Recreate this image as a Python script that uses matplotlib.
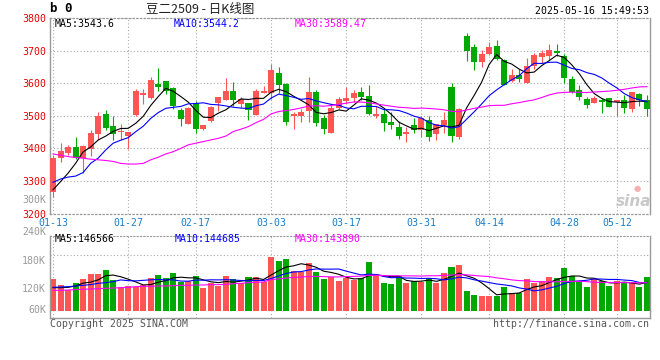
import matplotlib
matplotlib.use('Agg')
import matplotlib.pyplot as plt
import numpy as np
import pandas as pd

# ---------------- data ----------------
dates = ['01-13','01-14','01-15','01-16','01-17','01-20','01-21','01-22','01-23','01-24','01-27',
         '02-05','02-06','02-07','02-10','02-11','02-12','02-13','02-14','02-17','02-18','02-19',
         '02-20','02-21','02-24','02-25','02-26','02-27','02-28',
         '03-03','03-04','03-05','03-06','03-07','03-10','03-11','03-12','03-13','03-14','03-17',
         '03-18','03-19','03-20','03-21','03-24','03-25','03-26','03-27','03-28','03-31',
         '04-01','04-02','04-03','04-07','04-08','04-09','04-10','04-11','04-14','04-15','04-16',
         '04-17','04-18','04-21','04-22','04-23','04-24','04-25','04-28','04-29','04-30',
         '05-06','05-07','05-08','05-09','05-12','05-13','05-14','05-15','05-16']

open_ = [3267,3370,3387,3404,3370,3399,3445,3505,3468,3450,
         3438,3501,3563,3554,3598,3607,3585,3518,3476,3540,
         3459,3483,3540,3550,3576,3536,3540,3503,3571,3569,
         3631,3599,3498,3498,3516,3573,3493,3448,3525,3546,
         3556,3573,3561,3498,3506,3482,3467,3445,3472,3455,
         3487,3444,3472,3589,3436,3745,3710,3666,3690,3714,
         3671,3607,3625,3601,3652,3680,3684,3700,3684,3613,
         3579,3552,3540,3550,3554,3543,3550,3521,3566,3550]
high = [3380,3416,3410,3435,3411,3457,3511,3518,3500,3474,
        3450,3582,3581,3620,3647,3607,3588,3525,3528,3545,
        3472,3530,3558,3615,3604,3559,3540,3582,3590,3660,
        3650,3601,3513,3522,3619,3579,3503,3532,3558,3589,
        3578,3589,3595,3531,3520,3513,3485,3466,3494,3500,
        3500,3475,3513,3600,3525,3753,3719,3702,3726,3733,
        3673,3643,3643,3676,3694,3702,3720,3720,3690,3622,
        3595,3559,3561,3554,3554,3550,3564,3573,3569,3564]
low = [3252,3359,3380,3368,3326,3377,3426,3457,3427,3427,
       3397,3500,3536,3551,3576,3566,3520,3469,3476,3448,
       3456,3480,3515,3547,3530,3525,3487,3503,3571,3552,
       3569,3473,3461,3482,3480,3470,3443,3448,3521,3540,
       3543,3550,3503,3492,3452,3459,3428,3420,3446,3435,
       3423,3427,3448,3420,3430,3669,3642,3651,3687,3671,
       3595,3605,3605,3601,3643,3661,3671,3682,3600,3569,
       3549,3525,3538,3510,3527,3500,3510,3513,3531,3500]
close = [3372,3392,3404,3370,3408,3447,3499,3464,3443,3452,
         3450,3576,3571,3610,3588,3576,3530,3491,3524,3461,
         3472,3526,3558,3576,3547,3552,3517,3576,3576,3641,
         3596,3482,3505,3513,3573,3479,3461,3525,3552,3555,
         3570,3558,3506,3506,3479,3472,3439,3450,3455,3494,
         3435,3475,3487,3438,3520,3700,3666,3690,3710,3674,
         3595,3625,3612,3652,3687,3694,3702,3694,3617,3574,
         3559,3533,3556,3543,3527,3550,3525,3573,3550,3520]
volume = [152800,139700,128600,143800,152800,163100,163100,171400,150700,135500,
          137600,135500,139700,154100,160300,154100,164500,145900,147900,159000,
          134100,144500,137600,159000,152800,144500,156200,156200,145900,198300,
          190000,193400,169300,167200,185200,166600,152800,156200,148600,154100,
          150000,154100,187200,158300,143800,141700,158300,143800,147900,145900,
          154100,144500,164500,176900,181000,127200,119000,116900,116900,116900,
          135500,123100,123100,152100,144500,147900,156200,154100,174800,158300,
          147900,135500,151400,147900,137600,147900,143100,143100,135500,156900]

ma5_head = [3273,3298,3324,3354]
ma10_head = [3296,3306,3312,3315,3326,3354,3370,3395,3416]
ma30_head = [3383,3379,3375,3372,3370,3367,3365,3363,3360,3354,3352,3352,3354,3365,3373,
             3383,3390,3400,3411,3416,3421,3426,3431,3438,3452,3459,3467,3479,3489]
vma5_head = [134100,134100,134800,137600]
vma10_head = [134800,135500,136200,137600,139000,140400,143100,144500,146600]
vma30_head = [128600,128600,129300,130000,130700,131400,132100,132800,133400,134100,
              134800,136200,136900,136900,137600,137600,138300,139000,139000,139700,
              139700,140400,140400,141000,142400,143100,144500,145200,145900]

tick_labels = ['01-13','01-27','02-17','03-03','03-17','03-31','04-14','04-28','05-12']
price_ticks = [3200,3300,3400,3500,3600,3700,3800]
vol_ticks = [120000,180000,240000]
vol_tick_labels = ['120K','180K','240K']
ma_price_text = ['MA5:3543.6','MA10:3544.2','MA30:3589.47']
ma_vol_text = ['MA5:146566','MA10:144685','MA30:143890']
title_code = 'b 0'
title_text = '豆二2509 - 日K线图'
timestamp = '2025-05-16 15:49:53'

# ---------------- style ----------------
RED = '#ff5555'
GREEN = '#00a800'
GRID = '#aaaaaa'
SPINE = '#999999'
MA_COLORS = ['#000000', '#0000ff', '#ff00ff']
MONO = ['DejaVu Sans Mono']
FS = 7.1
plt.rcParams['font.family'] = MONO

W, H = 660, 360
fig = plt.figure(figsize=(W / 100, H / 100), dpi=100)

def ax_at(x0, y0, x1, y1):
    return fig.add_axes([x0 / W, 1 - y1 / H, (x1 - x0) / W, (y1 - y0) / H])

def ftext(x, y, s, **kw):
    return fig.text(x / W, 1 - y / H, s, **kw)

def moving_average(values, n, head):
    s = pd.Series(values, dtype=float).rolling(n).mean().to_numpy()
    s[:len(head)] = head
    return s

o = np.array(open_, float); h = np.array(high, float)
l = np.array(low, float); c = np.array(close, float)
v = np.array(volume, float)
x = np.arange(len(dates))
cols = np.where(c >= o, RED, GREEN)
tick_pos = [dates.index(t) for t in tick_labels]
XLIM = (-0.4, len(dates) - 0.6)
DOT = (0, (1, 2))

# ---------------- price panel ----------------
ax = ax_at(50, 18, 650, 213.6)
ax.set_xlim(*XLIM)
ax.set_ylim(price_ticks[0], price_ticks[-1])
ax.set_yticks(price_ticks)
ax.set_yticklabels([str(t) for t in price_ticks], color='#e60000', fontsize=FS)
ax.set_xticks(tick_pos)
ax.set_xticklabels(tick_labels, color='#1a7dc8', fontsize=FS)
ax.tick_params(length=0, pad=3)
ax.grid(True, color=GRID, ls=DOT, lw=0.8)
ax.set_axisbelow(True)
for s in ['left', 'right']:
    ax.spines[s].set_color(SPINE); ax.spines[s].set_linewidth(1)
for s in ['top', 'bottom']:
    ax.spines[s].set_color(SPINE); ax.spines[s].set_linestyle(DOT); ax.spines[s].set_linewidth(0.9)

ax.vlines(x, l, h, colors=cols, lw=0.8, zorder=2)
ax.bar(x, np.abs(c - o), bottom=np.minimum(o, c), width=0.8, color=cols, linewidth=0, zorder=3)
for n, head, col in zip([5, 10, 30], [ma5_head, ma10_head, ma30_head], MA_COLORS):
    ax.plot(x, moving_average(c, n, head), color=col, lw=0.8, zorder=4)

# ---------------- volume panel ----------------
axv = ax_at(50, 236, 650, 311)
axv.set_xlim(*XLIM)
axv.set_ylim(85861, 241037)
axv.set_yticks(vol_ticks)
axv.set_yticklabels(vol_tick_labels, color='#999999', fontsize=FS, va='bottom')
axv.set_xticks(tick_pos)
axv.set_xticklabels([])
axv.tick_params(length=0, pad=3)
axv.grid(True, axis='x', color=GRID, ls=DOT, lw=0.8)
axv.set_axisbelow(True)
for yv in [120000, 160000, 200000]:
    pass
axv.axhline(202000, color=GRID, ls=DOT, lw=0.8, zorder=0)
for s in ['left', 'right']:
    axv.spines[s].set_color(SPINE); axv.spines[s].set_linewidth(1)
axv.spines['top'].set_color(SPINE); axv.spines['top'].set_linestyle(DOT)
axv.spines['bottom'].set_visible(False)
axv.bar(x, v, width=0.8, color=cols, linewidth=0, zorder=2)
for n, head, col in zip([5, 10, 30], [vma5_head, vma10_head, vma30_head], MA_COLORS):
    axv.plot(x, moving_average(v, n, head), color=col, lw=0.8, zorder=4)

# strip below volume bars (axis line)
axs = ax_at(50, 311, 650, 318)
axs.set_xlim(*XLIM); axs.set_ylim(0, 1)
axs.set_xticks(tick_pos); axs.set_xticklabels([]); axs.set_yticks([])
axs.tick_params(length=0)
axs.grid(True, axis='x', color=GRID, ls=DOT, lw=0.8)
axs.spines['top'].set_visible(False)
for s in ['left', 'right', 'bottom']:
    axs.spines[s].set_color(SPINE); axs.spines[s].set_linewidth(1)

# ---------------- texts ----------------
ftext(50, 9, title_code, fontsize=9, fontweight='bold', va='center', ha='left')
ftext(200, 9, title_text, fontsize=9, va='center', ha='center',
      family=['Noto Sans CJK SC', 'DejaVu Sans'], color='#222222')
ftext(649, 11, timestamp, fontsize=FS, va='center', ha='right')
for s, px, col in zip(ma_price_text, [55, 174, 295], MA_COLORS):
    ftext(px, 23.7, s, fontsize=FS, va='center', ha='left', color=col)
for s, px, col in zip(ma_vol_text, [55, 175, 295], MA_COLORS):
    ftext(px, 239.3, s, fontsize=FS, va='center', ha='left', color=col)
ftext(46, 200, '300K', fontsize=FS, va='center', ha='right', color='#999999')
ftext(46, 310, '60K', fontsize=FS, va='center', ha='right', color='#999999')
ftext(50, 324, 'Copyright 2025 SINA.COM', fontsize=FS, va='center', ha='left', color='#555555')
ftext(649, 324, 'http://finance.sina.com.cn', fontsize=FS, va='center', ha='right', color='#555555')
ftext(634, 202, 'sina', fontsize=11, fontweight='bold', style='italic', va='center', ha='center',
      color='#c8c8c8', family=['DejaVu Sans'])
ftext(637, 189, '●', fontsize=6, va='center', ha='center', color='#f4b0b0', family=['DejaVu Sans'])

fig.savefig('out.png', dpi=100)
